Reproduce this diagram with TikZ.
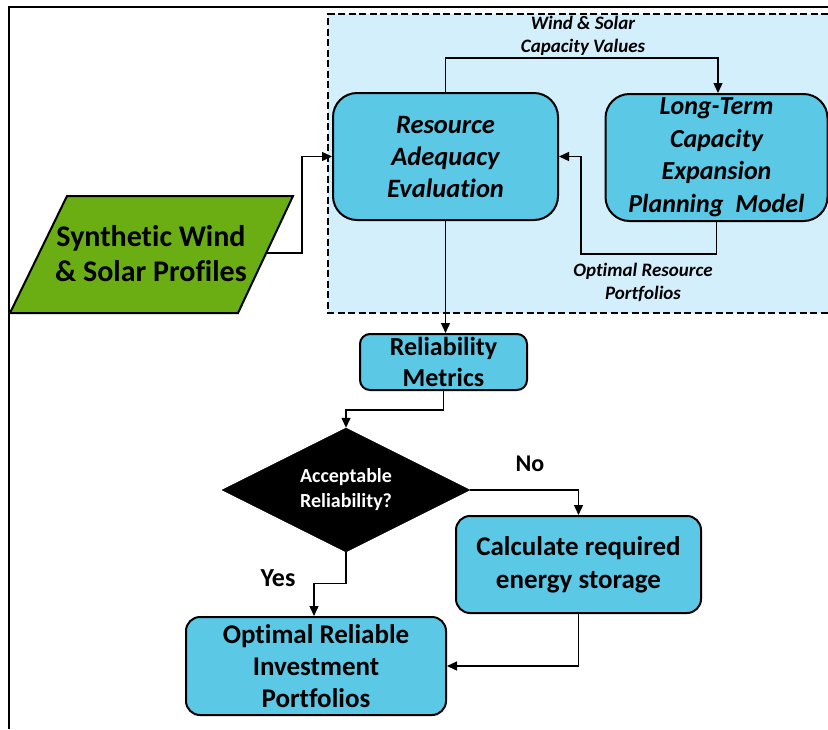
\documentclass[tikz,border=0pt]{standalone}
\usepackage{fontspec}
\setmainfont{Carlito}[Ligatures=NoCommon]
\usetikzlibrary{arrows.meta,shapes.geometric,calc}
\definecolor{boxblue}{HTML}{5BC8E6}
\definecolor{panelblue}{HTML}{D4EFFC}
\definecolor{profgreen}{HTML}{6AAE14}
\tikzset{
  x=1pt,y=-1pt,
  blockbox/.style={draw=black,line width=2pt,fill=boxblue,rounded corners=#1,inner sep=0pt,align=center},
  blockbox/.default=12pt,
  arr/.style={line width=1.4pt,-{Triangle[length=10pt,width=9pt]}},
  lbl/.style={font=\bfseries\itshape\fontsize{19}{23}\selectfont,align=center},
}
\begin{document}
\begin{tikzpicture}
\useasboundingbox (0,0) rectangle (828,729);
% outer frame
\draw[line width=2pt] (9,729) -- (9,7) -- (828,7);
% dashed panel holding the two model blocks
\fill[panelblue] (328,14) rectangle (828,313);
\draw[line width=2pt,dash pattern=on 7pt off 3.5pt] (828,14) -- (328,14) -- (328,313) -- (828,313);

% blocks
\node[blockbox=24pt,minimum width=225,minimum height=127,font=\bfseries\itshape\fontsize{26.5}{32}\selectfont]
  (rae) at (445.5,156.5) {Resource\\Adequacy\\Evaluation};
\node[blockbox=24pt,minimum width=222,minimum height=127,font=\bfseries\itshape\fontsize{26}{32.5}\selectfont]
  (ltm) at (716.5,157.5) {Long-Term\\Capacity\\Expansion\\Planning~ Model};
\node[blockbox=10pt,minimum width=167,minimum height=56,font=\bfseries\fontsize{26}{31}\selectfont]
  (rm) at (443.5,362) {Reliability\\Metrics};
\node[diamond,fill=black,draw=black,aspect=2,minimum width=248,minimum height=124,inner sep=0pt,
  text=white,align=center,font=\bfseries\fontsize{20}{25}\selectfont]
  (dia) at (346,490) {Acceptable\\Reliability?};
\node[blockbox=14pt,minimum width=245,minimum height=97,font=\bfseries\fontsize{27}{33}\selectfont]
  (stor) at (578.5,564.5) {Calculate required\\energy storage};
\node[blockbox=14pt,minimum width=260,minimum height=98,font=\bfseries\fontsize{27}{32}\selectfont]
  (orip) at (316,666) {Optimal Reliable\\Investment\\Portfolios};

% input parallelogram
\draw[line width=2pt,fill=profgreen] (67,196) -- (293,196) -- (238,313) -- (10,313) -- cycle;
\node[align=center,inner sep=0pt,font=\bfseries\fontsize{30}{35}\selectfont]
  (syn) at (151,254) {Synthetic Wind\\\& Solar Profiles};
\coordinate (synout) at (266,253);
\coordinate (synk) at (302,253);
\coordinate (fbk) at (581,254);

% connectors
\draw[arr] (synout) -- (synk) |- (rae.west);
\draw[arr] (rae.north) -- ++(0,-34) -| ([xshift=1.5pt]ltm.north);
\draw[arr] (ltm.south) |- (fbk) |- (rae.east);
\draw[arr] (rae.south) -- (rae.south |- rm.north);
\draw[arr] (rm.south) -- ++(0,19) -| (dia.north);
\draw[arr] (dia.east) -| (stor.north);
\draw[arr] (dia.south) -- ++(0,31) -| ([xshift=-2pt]orip.north);
\draw[arr] (stor.south) |- (orip.east);

% labels
\node[lbl] (lcap) at (583,36) {Wind \& Solar\\Capacity Values};
\node[lbl] (lopt) at (643,282) {Optimal Resource\\Portfolios};
\node[font=\bfseries\fontsize{24}{28}\selectfont] (lno) at (530,464) {No};
\node[font=\bfseries\fontsize{26}{28}\selectfont] (lyes) at (278,578) {Yes};
\end{tikzpicture}
\end{document}
